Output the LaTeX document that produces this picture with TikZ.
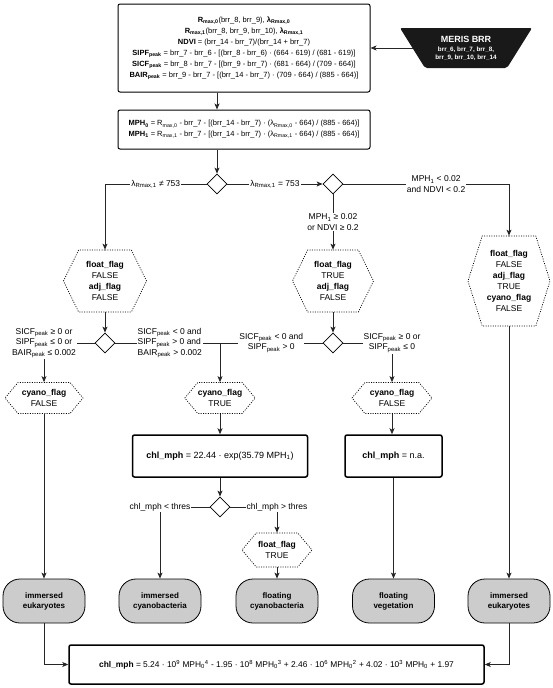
\documentclass[tikz,border=0pt]{standalone}
\usepackage{fontspec}
\setmainfont{Liberation Sans}
\usetikzlibrary{arrows.meta,shapes.geometric,shapes.symbols}

\begin{document}
\begin{tikzpicture}[x=1pt,y=1pt,font=\fontsize{7.5}{11}\selectfont,
    line/.style={draw=black!85,line width=0.8pt},
    arr/.style={line,-{Stealth[length=6pt,width=5pt,inset=1.5pt]}},
    calcbox/.style={draw,line width=1pt,rounded corners=2pt,fill=white,align=center,inner sep=2pt},
    chlbox/.style={calcbox,line width=1.5pt,font=\fontsize{9}{11}\selectfont},
    flag/.style={signal,signal to=east and west,draw=black,line width=0.7pt,dash pattern=on 1pt off 1.4pt,align=center,inner sep=0pt,font=\fontsize{8.5}{11}\selectfont},
    dec/.style={diamond,draw,line width=0.8pt,minimum size=20pt,inner sep=0pt},
    leaf/.style={draw,line width=0.8pt,rounded corners=17pt,fill=black!20,font=\fontsize{8}{10}\selectfont\bfseries,align=center,minimum width=82pt,minimum height=44pt},
    lbl/.style={fill=white,inner sep=1pt,align=center,font=\fontsize{8.5}{10.5}\selectfont}]
\useasboundingbox (0,0) rectangle (553,-688);
% input and index computation
\fill[black!90,rounded corners=2pt] (400,-28) -- (532,-28) -- (507,-68) -- (425,-68) -- cycle;
\node[text=white,align=center,inner sep=1pt,font=\fontsize{6.3}{8}\selectfont\bfseries] (meris) at (466,-48)
    {{\fontsize{9}{11}\selectfont MERIS BRR}\\[1pt]brr\_6, brr\_7, brr\_8,\\brr\_9, brr\_10, brr\_14};
\coordinate (merisw) at (412.5,-48);
\node[calcbox,minimum width=252pt,minimum height=88pt] (inputs) at (244,-48)
    {\textbf{R\textsubscript{max,0}}(brr\_8, brr\_9), \textbf{λ\textsubscript{Rmax,0}}\\
     \textbf{R\textsubscript{max,1}}(brr\_8, brr\_9, brr\_10), \textbf{λ\textsubscript{Rmax,1}}\\
     \textbf{NDVI} = (brr\_14 - brr\_7)/(brr\_14 + brr\_7)\\
     \textbf{SIPF\textsubscript{peak}} = brr\_7 - brr\_6 - [(brr\_8 - brr\_6) · (664 - 619) / (681 - 619)]\\
     \textbf{SICF\textsubscript{peak}} = brr\_8 - brr\_7 - [(brr\_9 - brr\_7) · (681 - 664) / (709 - 664)]\\
     \textbf{BAIR\textsubscript{peak}} = brr\_9 - brr\_7 - [(brr\_14 - brr\_7) · (709 - 664) / (885 - 664)]};
\node[calcbox,minimum width=252pt,minimum height=39pt] (mph) at (244,-129.5)
    {\textbf{MPH\textsubscript{0}} = R\textsubscript{max,0} - brr\_7 - [(brr\_14 - brr\_7) · (λ\textsubscript{Rmax,0} - 664) / (885 - 664)]\\
     \textbf{MPH\textsubscript{1}} = R\textsubscript{max,1} - brr\_7 - [(brr\_14 - brr\_7) · (λ\textsubscript{Rmax,1} - 664) / (885 - 664)]};
% decisions and flags
\node[dec] (d1) at (217,-184) {};
\node[dec] (d2) at (333,-184) {};
\node[flag,minimum width=83pt,minimum height=62pt,signal pointer angle=128] (fl) at (105,-281)
    {\textbf{float\_flag}\\FALSE\\\textbf{adj\_flag}\\FALSE};
\node[flag,minimum width=81pt,minimum height=62pt,signal pointer angle=128] (fm) at (333,-281)
    {\textbf{float\_flag}\\TRUE\\\textbf{adj\_flag}\\FALSE};
\node[flag,minimum width=82pt,minimum height=90pt,signal pointer angle=145] (fr) at (509,-281)
    {\textbf{float\_flag}\\FALSE\\\textbf{adj\_flag}\\TRUE\\\textbf{cyano\_flag}\\FALSE};
\node[dec] (d3) at (105,-343) {};
\node[dec] (d4) at (333,-343) {};
\node[flag,minimum width=78pt,minimum height=31pt,signal pointer angle=100] (cl) at (44,-398) {\textbf{cyano\_flag}\\FALSE};
\node[flag,minimum width=70pt,minimum height=31pt,signal pointer angle=100] (cm) at (220,-398) {\textbf{cyano\_flag}\\TRUE};
\node[flag,minimum width=80pt,minimum height=31pt,signal pointer angle=100] (cr) at (392,-398) {\textbf{cyano\_flag}\\FALSE};
\node[chlbox,minimum width=175pt,minimum height=42pt] (c1) at (220,-456) {\textbf{chl\_mph} = 22.44 · exp(35.79 MPH\textsubscript{1})};
\node[chlbox,minimum width=97pt,minimum height=42pt] (c2) at (393.5,-456) {\textbf{chl\_mph} = n.a.};
\node[dec] (d5) at (220,-507) {};
\node[flag,minimum width=70pt,minimum height=34pt,signal pointer angle=100] (ft) at (277,-550) {\textbf{float\_flag}\\TRUE};
% classes
\node[leaf] (t1) at (44,-601) {immersed\\eukaryotes};
\node[leaf] (t2) at (160,-601) {immersed\\cyanobacteria};
\node[leaf] (t3) at (277,-601) {floating\\cyanobacteria};
\node[leaf] (t4) at (393.5,-601) {floating\\vegetation};
\node[leaf] (t5) at (509,-601) {immersed\\eukaryotes};
\node[chlbox,minimum width=415pt,minimum height=39pt,font=\fontsize{8.4}{10}\selectfont] (res) at (276.5,-664.5)
    {\textbf{chl\_mph} = 5.24 · 10\textsuperscript{9} MPH\textsubscript{0}\textsuperscript{4} - 1.95 · 10\textsuperscript{8} MPH\textsubscript{0}\textsuperscript{3} + 2.46 · 10\textsuperscript{6} MPH\textsubscript{0}\textsuperscript{2} + 4.02 · 10\textsuperscript{3} MPH\textsubscript{0} + 1.97};
% connectors
\draw[arr] (merisw) -- (inputs.east |- merisw);
\draw[arr] (inputs.south -| d1) -- (mph.north -| d1);
\draw[arr] (mph.south -| d1) -- (d1.north);
\draw[arr] (d1.west) -| node[lbl,pos=0.25]{λ\textsubscript{Rmax,1} ≠ 753} (fl.north);
\draw[arr] (d1.east) -- node[lbl]{λ\textsubscript{Rmax,1} = 753} (d2.west);
\draw[arr] (d2.east) -| node[lbl,pos=0.28]{MPH\textsubscript{1} < 0.02\\and NDVI < 0.2} (fr.north);
\draw[arr] (d2.south) -- node[lbl]{MPH\textsubscript{1} ≥ 0.02\\or NDVI ≥ 0.2} (fm.north);
\draw[arr] (fl.south) -- (d3.north);
\draw[arr] (fm.south) -- (d4.north);
\draw[arr] (d3.west) -| node[lbl,pos=0.5]{SICF\textsubscript{peak} ≥ 0 or\\SIPF\textsubscript{peak} ≤ 0 or\\BAIR\textsubscript{peak} ≤ 0.002} (cl.north);
\draw[arr] (d3.east) -| node[lbl,pos=0.26,align=left]{SICF\textsubscript{peak} < 0 and\\SIPF\textsubscript{peak} > 0 and\\BAIR\textsubscript{peak} > 0.002} (cm.north);
\draw[line] (d4.west) -- node[lbl]{SICF\textsubscript{peak} < 0 and\\SIPF\textsubscript{peak} > 0} (cm.north |- d4.west);
\draw[arr] (d4.east) -| node[lbl,pos=0.5]{SICF\textsubscript{peak} ≥ 0 or\\SIPF\textsubscript{peak} ≤ 0} (cr.north);
\draw[arr] (cm.south) -- (c1.north -| cm);
\draw[arr] (cr.south) -- (c2.north -| cr);
\draw[arr] (c1.south) -- (d5.north);
\draw[arr] (d5.west) -| node[lbl,pos=0.5]{chl\_mph < thres} (t2.north);
\draw[arr] (d5.east) -| node[lbl,pos=0.5]{chl\_mph > thres} (ft.north);
\draw[arr] (cl.south) -- (t1.north);
\draw[arr] (ft.south) -- (t3.north);
\draw[arr] (c2.south) -- (t4.north);
\draw[arr] (fr.south) -- (t5.north);
\draw[arr] (t1.south) |- (res.west);
\draw[arr] (t5.south) |- (res.east);
\end{tikzpicture}
\end{document}
